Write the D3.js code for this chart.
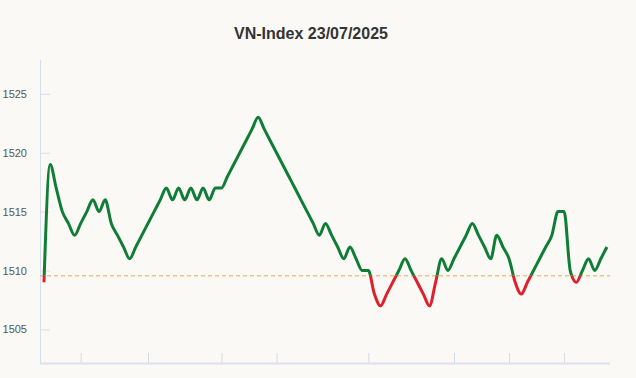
<!DOCTYPE html>
<html>
<head>
<meta charset="utf-8">
<script src="https://cdn.jsdelivr.net/npm/d3@7"></script>
<style>
  body { margin: 0; background: #faf9f6; }
  svg { display: block; font-family: "Liberation Sans", Arial, sans-serif; }
</style>
</head>
<body>
<div id="chart"></div>
<script>
// index values, one per point
const values = [1509, 1519, 1517, 1515, 1514, 1513, 1514, 1515, 1516, 1515,
  1516, 1514, 1513, 1512, 1511, 1512, 1513, 1514, 1515, 1516,
  1517, 1516, 1517, 1516, 1517, 1516, 1517, 1516, 1517, 1517,
  1518, 1519, 1520, 1521, 1522, 1523, 1522, 1521, 1520, 1519,
  1518, 1517, 1516, 1515, 1514, 1513, 1514, 1513, 1512, 1511,
  1512, 1511, 1510, 1510, 1508, 1507, 1508, 1509, 1510, 1511,
  1510, 1509, 1508, 1507, 1509, 1511, 1510, 1511, 1512, 1513,
  1514, 1513, 1512, 1511, 1513, 1512, 1511, 1509, 1508, 1509,
  1510, 1511, 1512, 1513, 1515, 1515, 1510, 1509, 1510, 1511,
  1510, 1511, 1512];
const refValue = 1509.55;
const yTicks = [1505, 1510, 1515, 1520, 1525];
const xTickIdx = [6, 17, 29, 38, 53, 67, 76, 85];
const title = "VN-Index 23/07/2025";

const width = 636, height = 378;
const plotLeft = 40, plotRight = 610, plotTop = 60, plotBottom = 363;

const svg = d3.select("#chart")
  .append("svg")
    .attr("width", width)
    .attr("height", height);

svg.append("rect")
  .attr("width", width)
  .attr("height", height)
  .attr("fill", "#faf9f6");

// scales
const x = d3.scaleLinear()
  .domain([-0.65, values.length - 0.5])
  .range([plotLeft, plotRight]);

const y = d3.scaleLinear()
  .domain([1502.15, 1527.87])
  .range([plotBottom, plotTop]);

// title
svg.append("text")
  .attr("x", 311)
  .attr("y", 39)
  .attr("text-anchor", "middle")
  .attr("font-size", 16)
  .attr("font-weight", "bold")
  .attr("fill", "#333")
  .text(title);

// y axis
const yAxis = svg.append("g")
  .attr("transform", `translate(${plotLeft},0)`)
  .call(d3.axisRight(y).tickValues(yTicks).tickSize(10).tickFormat(d3.format("d")));
yAxis.select(".domain").remove();
yAxis.selectAll("line").attr("stroke", "#d8ddee");
yAxis.selectAll("text")
  .attr("x", -13)
  .attr("text-anchor", "end")
  .attr("font-size", 11)
  .attr("fill", "#5a5650")
  .attr("font-family", "'Liberation Sans', Arial, sans-serif");

svg.append("line")
  .attr("x1", plotLeft + 0.5).attr("x2", plotLeft + 0.5)
  .attr("y1", plotTop).attr("y2", plotBottom)
  .attr("stroke", "#d8ddee");

// x axis
const xAxis = svg.append("g")
  .attr("transform", `translate(0,${plotBottom})`)
  .call(d3.axisTop(x).tickValues(xTickIdx).tickSize(10).tickFormat(""));
xAxis.select(".domain").remove();
xAxis.selectAll("line").attr("stroke", "#d3d9ec");

svg.append("line")
  .attr("x1", plotLeft).attr("x2", plotRight)
  .attr("y1", plotBottom + 0.5).attr("y2", plotBottom + 0.5)
  .attr("stroke", "#dde2f0")
  .attr("stroke-width", 2);

// reference line
svg.append("line")
  .attr("x1", plotLeft).attr("x2", plotRight)
  .attr("y1", y(refValue)).attr("y2", y(refValue))
  .attr("stroke", "#f5a54f")
  .attr("stroke-width", 1)
  .attr("stroke-dasharray", "4,3");

// clip areas above / below reference
const defs = svg.append("defs");
defs.append("clipPath").attr("id", "above")
  .append("rect")
    .attr("x", 0).attr("y", 0)
    .attr("width", width).attr("height", y(refValue));
defs.append("clipPath").attr("id", "below")
  .append("rect")
    .attr("x", 0).attr("y", y(refValue))
    .attr("width", width).attr("height", height - y(refValue));

const line = d3.line()
  .x((d, i) => x(i))
  .y(d => y(d))
  .curve(d3.curveMonotoneX);

svg.append("path")
  .datum(values)
  .attr("clip-path", "url(#above)")
  .attr("d", line)
  .attr("fill", "none")
  .attr("stroke", "#0f7d36")
  .attr("stroke-width", 3)
  .attr("stroke-linejoin", "round");

svg.append("path")
  .datum(values)
  .attr("clip-path", "url(#below)")
  .attr("d", line)
  .attr("fill", "none")
  .attr("stroke", "#e01f2d")
  .attr("stroke-width", 3)
  .attr("stroke-linejoin", "round");
</script>
</body>
</html>
